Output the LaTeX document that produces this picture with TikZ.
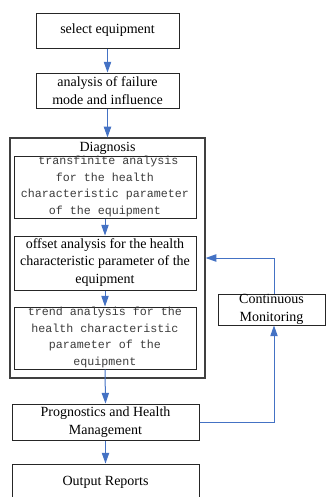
\documentclass[tikz,border=0pt]{standalone}
\usepackage{fontspec}
\setmainfont{Liberation Serif}
\newfontfamily\monofont{Liberation Mono}
\usetikzlibrary{arrows.meta,calc}
\definecolor{flowblue}{HTML}{4472C4}
\definecolor{monogray}{HTML}{3C3C3C}
\tikzset{
  px/.style={x=0.75pt,y=-0.75pt},
  box/.style={draw=black!85,line width=0.75pt,rectangle,inner sep=0pt},
  serif/.style={align=center,font=\fontsize{10.5}{13}\selectfont,inner sep=0pt},
  mono/.style={align=center,font=\monofont\fontsize{8.75}{12.5}\selectfont,text=monogray,inner sep=0pt},
  flow/.style={draw=flowblue,line width=0.75pt,-{Triangle[length=8pt,width=5.5pt]}},
  link/.style={draw=flowblue,line width=0.75pt}
}
\begin{document}
\begin{tikzpicture}[px]
\useasboundingbox (0,0) rectangle (326,497);
\begin{scope}
\clip (0,0) rectangle (326,497);
% main chain
\node[box,minimum width=143*0.75pt,minimum height=35*0.75pt] (sel) at (107.5,30.5) {};
\node[serif] (selt) at (sel.center) {select equipment};
\node[box,minimum width=143*0.75pt,minimum height=35*0.75pt] (fmea) at (107.5,90.5) {};
\node[serif] (fmeat) at (fmea.center) {analysis of failure\\mode and influence};
% diagnosis group
\node[box,line width=0.9pt,draw=black!75,minimum width=195*0.75pt,minimum height=240*0.75pt] (diag) at (107.5,258) {};
\node[serif] (diagt) at (107.5,148.5) {Diagnosis};
\node[box,minimum width=182*0.75pt,minimum height=62*0.75pt] (trans) at (105,187) {};
\node[mono] (transt) at (105,186.5) {~transfinite analysis\\for the health\\characteristic parameter\\of the equipment};
\node[box,minimum width=182*0.75pt,minimum height=54*0.75pt] (offs) at (105,263) {};
\node[serif] (offst) at (105,262.5) {offset analysis for the health\\characteristic parameter of the\\equipment};
\node[box,minimum width=182*0.75pt,minimum height=62*0.75pt] (trend) at (105,338) {};
\node[mono] (trendt) at (105,337.5) {trend analysis for the\\health characteristic\\parameter of the\\equipment};
% prognostics and reporting
\node[box,minimum width=187*0.75pt,minimum height=36*0.75pt] (phm) at (105.5,422) {};
\node[serif] (phmt) at (phm.center) {Prognostics and Health\\Management};
\node[box,minimum width=187*0.75pt,minimum height=37*0.75pt] (outp) at (105.5,482.5) {};
\node[serif] (outpt) at (outp.center) {Output Reports};
% monitoring loop
\node[box,minimum width=107*0.75pt,minimum height=31*0.75pt] (mon) at (271.5,309.5) {};
\node[serif] (mont) at (mon.center) {Continuous\\Monitoring};
\coordinate (loopx) at (274,0);
% connectors
\draw[flow] (sel.south) -- (fmea.north);
\draw[flow] (fmea.south) -- (fmea.south |- diag.north);
\draw[flow] (trans.south) -- (offs.north);
\draw[flow] (offs.south) -- (trend.north);
\draw[flow] (trend.south) -- (phm.north);
\draw[flow] (phm.south) -- (outp.north);
\draw[flow] (phm.east) -| (loopx |- mon.south);
\draw[flow] (loopx |- mon.north) |- (diag.east);
\end{scope}
\end{tikzpicture}
\end{document}
